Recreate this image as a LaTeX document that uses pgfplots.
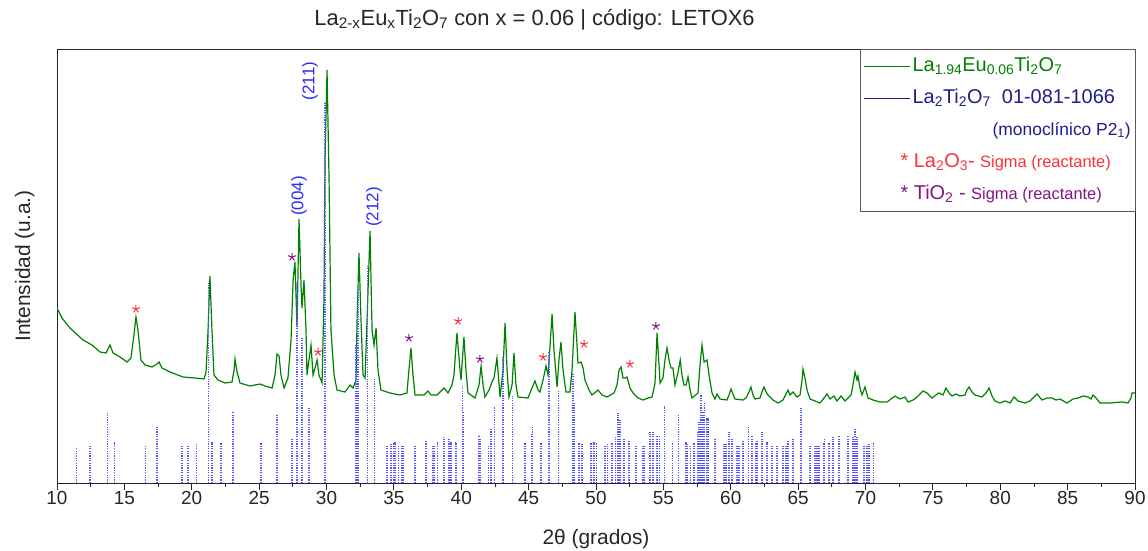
\documentclass[border=0pt]{standalone}
\usepackage{fontspec}
\setmainfont{Liberation Sans}
\usepackage{pgfplots}
\usepackage{pgfplotstable}
\pgfplotsset{compat=1.18}
\definecolor{cgreen}{RGB}{0,128,0}
\definecolor{cnavy}{RGB}{30,30,140}
\definecolor{cstick}{RGB}{85,85,255}
\definecolor{cred}{RGB}{250,50,60}
\definecolor{cpurple}{RGB}{135,20,135}
\definecolor{clabel}{RGB}{40,40,255}

\pgfplotstableread{
x y
10.00 175
10.37 165
10.96 155
11.93 143
12.60 138
13.19 131
13.64 130
13.93 138
14.16 130
14.68 126
15.19 121
15.49 125
15.71 148
15.86 166
16.01 153
16.23 123
16.53 118
17.05 116
17.42 119
17.57 121
17.79 115
18.39 111
19.35 106
20.24 105
20.91 104
21.06 111
21.21 153
21.35 207
21.50 153
21.65 108
21.95 103
22.47 100
22.99 101
23.14 113
23.21 124
23.36 111
23.58 100
24.32 97
25.07 99
25.44 97
25.96 95
26.18 108
26.33 129
26.48 127
26.62 108
26.85 95
27.14 105
27.37 143
27.52 203
27.66 221
27.81 156
27.96 264
28.11 198
28.18 175
28.33 203
28.48 153
28.55 108
28.70 123
28.85 138
29.00 108
29.15 115
29.30 123
29.44 108
29.67 100
29.81 183
29.89 323
30.04 413
30.19 303
30.33 153
30.56 108
30.78 93
31.37 91
31.75 98
31.97 95
32.19 103
32.27 163
32.41 230
32.56 163
32.71 108
32.86 105
33.01 163
33.23 252
33.38 153
33.53 138
33.68 155
33.82 113
34.04 93
34.71 90
35.45 88
35.97 90
36.12 113
36.27 135
36.42 108
36.57 88
37.23 88
37.53 92
37.76 88
38.20 88
38.72 95
39.02 90
39.31 98
39.46 108
39.68 150
39.91 113
39.98 103
40.20 146
40.35 113
40.50 90
41.02 85
41.32 98
41.47 117
41.62 98
41.76 86
42.06 93
42.28 101
42.43 105
42.65 125
42.88 86
43.10 113
43.25 160
43.40 113
43.54 86
43.77 98
43.91 130
44.06 98
44.21 86
44.95 85
45.25 95
45.47 102
45.70 93
45.84 91
46.07 103
46.29 117
46.44 108
46.59 138
46.74 169
46.88 133
47.11 96
47.25 123
47.40 141
47.55 113
47.77 91
48.07 91
48.22 113
48.44 171
48.59 138
48.66 120
48.89 121
49.04 115
49.18 103
49.48 93
49.70 88
50.15 93
50.45 88
50.82 86
51.34 90
51.56 98
51.71 113
51.86 116
52.00 105
52.15 105
52.30 106
52.52 95
52.75 90
53.12 85
53.49 83
53.86 85
54.16 86
54.38 100
54.53 150
54.68 118
54.75 100
54.97 105
55.12 123
55.27 135
55.42 123
55.57 115
55.71 115
55.86 98
56.09 111
56.25 123
56.38 108
56.53 98
56.68 98
56.83 106
56.98 93
57.12 85
57.57 90
57.72 118
57.87 138
58.02 121
58.24 123
58.39 108
58.61 90
58.83 84
58.98 89
59.20 84
59.72 83
59.87 88
60.02 94
60.16 89
60.31 84
60.91 83
61.13 85
61.35 91
61.50 96
61.65 88
61.80 84
62.17 85
62.32 91
62.47 96
62.62 91
62.76 88
63.14 83
63.51 80
63.88 83
64.10 89
64.25 93
64.40 88
64.62 91
64.92 86
65.14 88
65.29 103
65.36 114
65.51 105
65.66 93
65.88 84
66.25 82
66.62 80
66.92 85
67.14 89
67.37 84
67.66 87
67.89 82
68.18 87
68.48 82
68.70 85
68.93 88
69.07 98
69.22 111
69.37 103
69.44 107
69.59 95
69.74 88
69.96 96
70.19 85
70.56 83
71.08 81
71.60 81
71.89 84
72.19 87
72.56 84
72.93 86
73.16 81
73.53 83
73.83 86
74.05 89
74.27 92
74.57 90
74.94 85
75.23 88
75.45 90
75.75 88
75.97 95
76.20 90
76.42 87
76.71 89
77.01 87
77.38 88
77.53 93
77.68 96
77.90 91
78.12 88
78.64 86
78.94 90
79.17 95
79.39 87
79.61 82
79.98 80
80.36 82
80.73 80
81.02 86
81.32 82
81.84 80
82.21 82
82.43 85
82.73 89
83.10 83
83.47 85
83.84 85
84.14 83
84.43 84
84.95 80
85.40 84
85.77 85
86.14 87
86.51 86
86.74 84
86.88 88
87.11 85
87.40 80
88.14 80
89.03 81
89.48 80
89.70 85
89.78 90
90.00 90
}\sample

\pgfplotstableread{
x y
11.48 36
12.45 38
13.78 70
14.30 41
16.60 38
17.42 57
19.28 38
19.72 38
20.32 39
21.21 200
21.50 41
22.17 40
23.06 71
25.14 40
26.33 68
27.44 45
27.81 200
28.18 145
28.70 75
29.89 380
32.19 138
32.34 193
33.01 218
33.53 105
34.42 38
34.49 38
34.79 39
34.94 40
35.08 41
35.31 38
35.60 37
35.68 38
36.57 37
37.38 42
37.90 38
37.98 38
38.27 41
38.65 46
38.72 44
39.09 44
39.24 41
39.54 41
39.68 40
40.06 98
40.13 71
41.32 48
41.39 44
41.99 38
42.21 55
42.50 76
43.10 127
43.77 87
44.73 40
45.25 50
45.32 57
45.92 40
46.51 131
47.25 93
48.29 110
48.37 80
48.74 40
48.96 39
49.63 40
49.85 41
50.07 40
50.67 38
50.82 39
51.19 40
51.48 46
51.63 70
51.78 63
52.08 45
52.45 42
52.97 38
53.49 38
53.56 38
54.01 51
54.23 51
54.53 47
54.68 47
55.05 77
55.71 40
56.09 68
56.68 41
56.75 39
56.98 38
57.27 40
57.50 51
57.64 61
57.79 88
57.94 71
58.02 80
58.24 65
58.31 65
58.83 44
59.50 39
59.65 39
59.87 51
60.09 44
60.46 37
60.61 37
60.91 42
61.35 56
61.58 47
61.87 40
61.95 43
62.32 51
62.69 41
63.06 37
63.43 37
63.88 37
64.10 37
64.25 42
64.62 45
65.21 75
65.88 38
66.25 37
66.40 37
66.55 37
66.85 40
66.99 45
67.29 40
67.59 46
68.03 47
68.70 47
69.07 46
69.22 54
69.37 46
69.89 37
70.11 37
70.26 39
70.56 40
}\sticks

\begin{document}
\begin{tikzpicture}
\begin{axis}[
  name=ax, scale only axis, width=1078bp, height=434bp,
  xmin=10, xmax=90, ymin=0, ymax=434,
  xtick={10,15,...,90}, minor x tick num=1, ytick=\empty,
  xtick pos=lower, tick align=outside,
  major tick length=7bp, minor tick length=4bp,
  axis line style={black!85, line width=0.8bp},
  every tick/.style={black!85, line width=0.8bp},
  /pgf/number format/assume math mode=true,
  ticklabel style={font=\fontsize{19}{22}\selectfont, text=black!85},
  xticklabel style={inner sep=1bp},
  title={La\textsubscript{2-x}Eu\textsubscript{x}Ti\textsubscript{2}O\textsubscript{7} con x = 0.06 | código: LETOX6},
  title style={at={(axis description cs:0.443,1.041)}, anchor=base, font=\fontsize{22}{26}\selectfont, text=black!85},
  xlabel={2θ (grados)},
  xlabel style={at={(axis description cs:0.5,-0.1406)}, anchor=base, font=\fontsize{21}{24}\selectfont, text=black!85},
  ylabel={Intensidad (u.a.)},
  ylabel style={at={(axis description cs:-0.025,0.5)}, anchor=base, font=\fontsize{21}{24}\selectfont, text=black!85},
  legend image code/.code={\draw[#1] (0bp,0bp) -- (46bp,0bp);},
  legend cell align=left,
  legend style={at={(axis description cs:1.001,1)}, anchor=north east, draw=black!65, line width=0.8bp, fill=white,
    font=\fontsize{20}{24}\selectfont, inner xsep=3bp, inner ysep=3bp, row sep=4bp,
    nodes={text height=16bp, text depth=6bp, inner ysep=3bp, inner xsep=2bp},
    /tikz/every even column/.append style={column sep=5bp}},
]
\addplot[cgreen, line width=1.2bp, forget plot] table[x=x, y=y] {\sample};
\addplot[ycomb, cstick, line width=1.1bp, dash pattern=on 1.3bp off 1.1bp, forget plot] table[x=x, y=y] {\sticks};
\addplot[only marks, mark=star, mark size=4.2bp, cred, mark options={line width=1bp}, forget plot] coordinates {
(15.86,174) (29.37,131) (39.76,162) (46.07,126) (49.11,139) (52.52,119)};
\addplot[only marks, mark=star, mark size=4.2bp, cpurple, mark options={line width=1bp}, forget plot] coordinates {
(27.44,226) (36.12,145) (41.39,124) (54.45,157)};
\node[rotate=90, text=clabel, font=\fontsize{17}{20}\selectfont] at (axis cs:27.96,287) {(004)};
\node[rotate=90, text=clabel, font=\fontsize{17}{20}\selectfont] at (axis cs:28.78,402) {(211)};
\node[rotate=90, text=clabel, font=\fontsize{17}{20}\selectfont] at (axis cs:33.53,276) {(212)};

\addlegendimage{cgreen, line width=1bp}
\addlegendentry{\color{cgreen}La\textsubscript{1.94}Eu\textsubscript{0.06}Ti\textsubscript{2}O\textsubscript{7}}
\addlegendimage{cnavy, line width=1bp}
\addlegendentry{\color{cnavy}La\textsubscript{2}Ti\textsubscript{2}O\textsubscript{7}\ \ 01-081-1066}
\addlegendimage{empty legend}
\addlegendentry{\hspace*{80bp}\color{cnavy}\fontsize{17.5}{20}\selectfont(monoclínico P2\textsubscript{1})}
\addlegendimage{empty legend}
\addlegendentry{\hspace*{-12bp}\color{cred}* La\textsubscript{2}O\textsubscript{3}- {\fontsize{16.5}{19}\selectfont Sigma (reactante)}}
\addlegendimage{empty legend}
\addlegendentry{\hspace*{-12bp}\color{cpurple}* TiO\textsubscript{2} - {\fontsize{16.5}{19}\selectfont Sigma (reactante)}}
\end{axis}
\pgfresetboundingbox
\path ([shift={(-57bp,-67bp)}]ax.south west) rectangle ([shift={(13bp,49bp)}]ax.north east);
\end{tikzpicture}
\end{document}
